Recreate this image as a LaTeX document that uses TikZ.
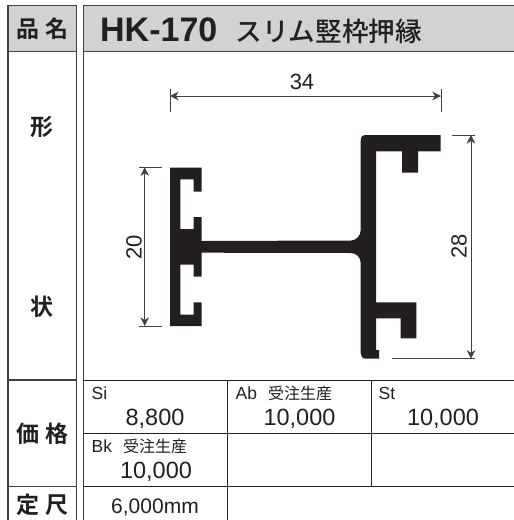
\documentclass[tikz,border=0pt]{standalone}
\usepackage{fontspec}
\setmainfont{Liberation Sans}
\newfontfamily\cjkm{Noto Sans CJK JP}
\newfontfamily\cjkt{Noto Sans CJK JP Medium}
\newfontfamily\cjkb{Noto Sans CJK JP Bold}
\definecolor{hdr}{HTML}{D1D2D4}
\definecolor{ink}{HTML}{231F20}
\usetikzlibrary{arrows.meta}
\tikzset{
  frame/.style={draw=ink!85!white,line width=1.5pt},
  thin rule/.style={draw=ink,line width=0.9pt},
  dim/.style={draw=ink!85!white,line width=1pt,{Stealth[length=8.5pt,width=8.5pt,inset=2.5pt]}-{Stealth[length=8.5pt,width=8.5pt,inset=2.5pt]}},
  tick/.style={draw=ink!85!white,line width=0.9pt},
  profile/.style={fill=ink,draw=none},
  lab/.style={text=ink,inner sep=0pt,anchor=base},
  side/.style={lab,font=\cjkb\fontsize{23}{23}\selectfont},
  dimtxt/.style={lab,font=\fontsize{22}{22}\selectfont},
  small/.style={lab,anchor=base west,font=\fontsize{17.5}{18}\selectfont},
  price/.style={lab,font=\fontsize{23.5}{24}\selectfont},
}
\begin{document}
\begin{tikzpicture}[x=1pt,y=-1pt]
\useasboundingbox (0,0) rectangle (514,520);
% header fills
\fill[hdr] (8,5.7) rectangle (76.7,51.7);
\fill[hdr] (83.3,5.7) rectangle (514,51.7);
% frames
\draw[frame] (8,520) -- (8,5.7) -- (76.7,5.7) -- (76.7,520);
\draw[frame] (514,5.7) -- (83.3,5.7) -- (83.3,520);
\draw[frame] (8,51.7) -- (76.7,51.7);
\draw[frame] (83.3,51.7) -- (514,51.7);
\draw[frame] (8,380) -- (76.7,380);
\draw[frame] (8,486.7) -- (76.7,486.7);
% price table
\draw[thin rule] (83.3,380) -- (514,380);
\draw[thin rule] (83.3,433.3) -- (514,433.3);
\draw[thin rule] (83.3,486.7) -- (514,486.7);
\draw[thin rule] (227.7,380) -- (227.7,520);
\draw[thin rule] (371.3,380) -- (371.3,486.7);
% side labels
\node[side] (hin) at (42.3,37.5) {品\hspace{6pt}名};
\node[side] (kata) at (42.3,135) {形};
\node[side] (jou) at (42.3,315) {状};
\node[side] (kakaku) at (42.3,442) {価\hspace{6pt}格};
\node[side] (teishaku) at (42.3,513.5) {定\hspace{6pt}尺};
% title
\node[lab,anchor=base west,font=\bfseries\fontsize{34}{34}\selectfont] (code) at (100,41) {HK-170};
\node[lab,anchor=base west,font=\cjkt\fontsize{26.6}{27}\selectfont] (name) at (235.5,41.5) {スリム竪枠押縁};
% profile
\draw[profile] (170,167.5) -- (201.7,167.5) -- (201.7,191.5) -- (193.7,191.5) -- (193.7,179.3) -- (180.3,179.3) -- (180.3,229) -- (193.7,229) -- (193.7,217) -- (201.7,217) -- (201.7,241)
 -- (351,240.5) .. controls (356,240.5) and (360.7,236) .. (360.7,230)
 -- (360.7,141) .. controls (360.7,137) and (362,135) .. (366,135)
 -- (440.7,135) -- (440.7,151.3) -- (418,151.3) -- (418,172.7) -- (402,172.7) -- (402,151.3) -- (376,151.3)
 -- (376,302.3) -- (416.3,302.3) -- (416.3,338.3) -- (400.7,338.3) -- (400.7,318.3) -- (376,318.3)
 -- (376,350) -- (379,350) -- (379,358.7) -- (366,358.7) .. controls (362,358.7) and (360.7,356) .. (360.7,353)
 -- (360.7,263) .. controls (360.7,257) and (356,253) .. (351,253)
 -- (201.7,252.7) -- (201.7,276.7) -- (193.7,276.7) -- (193.7,264.7) -- (180.3,264.7) -- (180.3,314.7) -- (193.7,314.7) -- (193.7,302.3) -- (201.7,302.3) -- (201.7,326) -- (170,326) -- cycle;
% dimension 34
\coordinate (a1) at (170,96);
\coordinate (a2) at (441,96);
\draw[tick] (170,89) -- (170,111.7);
\draw[tick] (441,89) -- (441,111.7);
\draw[dim] (a1) -- (a2);
\node[dimtxt] (d34) at (302,89.3) {34};
% dimension 20
\coordinate (b1) at (144.7,167.3);
\coordinate (b2) at (144.7,326);
\draw[tick] (139,167.3) -- (162,167.3);
\draw[tick] (139,326) -- (162,326);
\draw[dim] (b1) -- (b2);
\node[dimtxt,rotate=90,anchor=base] (d20) at (141.7,247) {20};
% dimension 28
\coordinate (c1) at (471,135);
\coordinate (c2) at (471,358.7);
\draw[tick] (452,135) -- (475,135);
\draw[tick] (392,358.7) -- (475,358.7);
\draw[dim] (c1) -- (c2);
\node[dimtxt,rotate=90,anchor=base] (d28) at (466.7,246.5) {28};
% table text
\node[small] (si) at (91.5,399) {Si};
\node[price] (p1) at (155,425.7) {8,800};
\node[small] (ab) at (235.5,399) {Ab\hspace{11pt}{\cjkm\fontsize{16}{16}\selectfont 受注生産}};
\node[price] (p2) at (299.5,425.7) {10,000};
\node[small] (st) at (378.5,399) {St};
\node[price] (p3) at (443,425.7) {10,000};
\node[small] (bk) at (91.5,452.3) {Bk\hspace{11pt}{\cjkm\fontsize{16}{16}\selectfont 受注生産}};
\node[price] (p4) at (156,478.3) {10,000};
\node[lab,font=\fontsize{21}{21}\selectfont] (len) at (155,513.3) {6,000mm};
\end{tikzpicture}
\end{document}
